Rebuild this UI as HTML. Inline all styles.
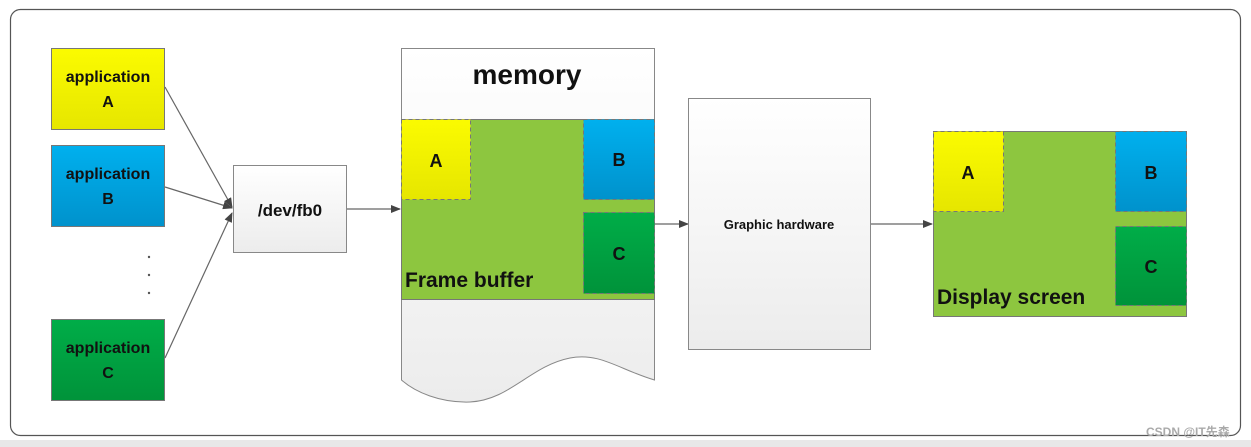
<!DOCTYPE html>
<html><head><meta charset="utf-8"><style>
html,body{margin:0;padding:0;background:#fff;}
svg{display:block;}
text{font-family:"Liberation Sans","Noto Sans CJK SC",sans-serif;font-weight:bold;fill:#111;}
</style></head><body>
<svg width="1251" height="447" viewBox="0 0 1251 447" xmlns="http://www.w3.org/2000/svg">
<defs>
<linearGradient id="gy" x1="0" y1="0" x2="0" y2="1"><stop offset="0" stop-color="#fbfb00"/><stop offset="1" stop-color="#e6e600"/></linearGradient>
<linearGradient id="gb" x1="0" y1="0" x2="0" y2="1"><stop offset="0" stop-color="#00b0ee"/><stop offset="1" stop-color="#0092cc"/></linearGradient>
<linearGradient id="gg" x1="0" y1="0" x2="0" y2="1"><stop offset="0" stop-color="#00ad48"/><stop offset="1" stop-color="#00933a"/></linearGradient>
<linearGradient id="gw" x1="0" y1="0" x2="0" y2="1"><stop offset="0" stop-color="#ffffff"/><stop offset="1" stop-color="#ececec"/></linearGradient>
<marker id="ar" markerWidth="10" markerHeight="8" refX="9" refY="4" orient="auto" markerUnits="userSpaceOnUse"><path d="M0,0 L10,4 L0,8 z" fill="#444"/></marker>
</defs>
<rect x="0" y="440" width="1251" height="7" fill="#e8e8e8"/>
<rect x="10.5" y="9.5" width="1230" height="426" rx="10" fill="#fff" stroke="#555" stroke-width="1.2"/>

<!-- apps -->
<rect x="51.5" y="48.5" width="113" height="81" fill="url(#gy)" stroke="#777"/>
<text x="108" y="82" font-size="16" text-anchor="middle">application</text>
<text x="108" y="107" font-size="16" text-anchor="middle">A</text>
<rect x="51.5" y="145.5" width="113" height="81" fill="url(#gb)" stroke="#777"/>
<text x="108" y="179" font-size="16" text-anchor="middle">application</text>
<text x="108" y="204" font-size="16" text-anchor="middle">B</text>
<rect x="51.5" y="319.5" width="113" height="81" fill="url(#gg)" stroke="#777"/>
<text x="108" y="353" font-size="16" text-anchor="middle">application</text>
<text x="108" y="378" font-size="16" text-anchor="middle">C</text>
<circle cx="149" cy="257" r="1.2" fill="#555"/><circle cx="149" cy="275" r="1.2" fill="#555"/><circle cx="149" cy="293" r="1.2" fill="#555"/>

<g stroke="#666" stroke-width="1.2" fill="none" marker-end="url(#ar)">
<line x1="165" y1="87" x2="232" y2="207"/>
<line x1="165" y1="187" x2="232" y2="208"/>
<line x1="165" y1="358" x2="232" y2="213"/>
<line x1="346" y1="209" x2="400" y2="209"/>
<line x1="654" y1="224" x2="688" y2="224"/>
<line x1="870" y1="224" x2="932" y2="224"/>
</g>

<rect x="233.5" y="165.5" width="113" height="87" fill="url(#gw)" stroke="#888"/>
<text x="290" y="216" font-size="17" text-anchor="middle">/dev/fb0</text>

<!-- memory -->
<path d="M401.5,48.5 H654.5 V380 C620,370 600,352 570,358 C530,366 510,400 470,402 C440,403 415,392 401.5,380 Z" fill="url(#gw)" stroke="#888"/>
<text x="527" y="84" font-size="28" text-anchor="middle">memory</text>
<rect x="401.5" y="119.5" width="253" height="180" fill="#8dc63f" stroke="#777"/>
<rect x="401.5" y="119.5" width="69" height="80" fill="url(#gy)" stroke="#777" stroke-dasharray="4,3"/>
<text x="436" y="167" font-size="18" text-anchor="middle">A</text>
<rect x="583.5" y="119.5" width="71" height="80" fill="url(#gb)" stroke="#777" stroke-dasharray="4,3"/>
<text x="619" y="166" font-size="18" text-anchor="middle">B</text>
<rect x="583.5" y="212.5" width="71" height="81" fill="url(#gg)" stroke="#777" stroke-dasharray="4,3"/>
<text x="619" y="260" font-size="18" text-anchor="middle" font-weight="normal">C</text>
<text x="405" y="287" font-size="21">Frame buffer</text>

<!-- graphic hardware -->
<rect x="688.5" y="98.5" width="182" height="251" fill="url(#gw)" stroke="#888"/>
<text x="779" y="229" font-size="13" text-anchor="middle">Graphic hardware</text>

<!-- display -->
<rect x="933.5" y="131.5" width="253" height="185" fill="#8dc63f" stroke="#777"/>
<rect x="933.5" y="131.5" width="70" height="80" fill="url(#gy)" stroke="#777" stroke-dasharray="4,3"/>
<text x="968" y="179" font-size="18" text-anchor="middle">A</text>
<rect x="1115.5" y="131.5" width="71" height="80" fill="url(#gb)" stroke="#777" stroke-dasharray="4,3"/>
<text x="1151" y="179" font-size="18" text-anchor="middle">B</text>
<rect x="1115.5" y="226.5" width="71" height="79" fill="url(#gg)" stroke="#777" stroke-dasharray="4,3"/>
<text x="1151" y="273" font-size="18" text-anchor="middle" font-weight="normal">C</text>
<text x="937" y="304" font-size="21">Display screen</text>

<text x="1146" y="436" font-size="12" font-weight="normal" style="fill:#aaa">CSDN @IT先森</text>
</svg>
</body></html>
